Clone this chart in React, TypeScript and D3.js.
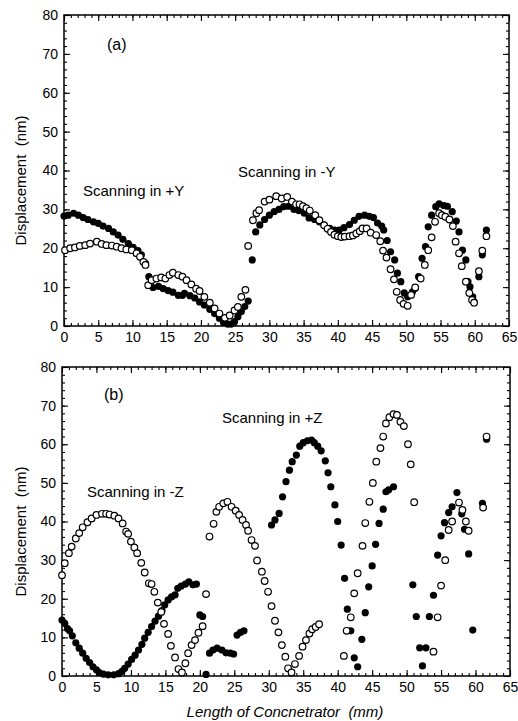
import { useEffect, useRef } from "react";
import * as d3 from "d3";

// tick values
const xTicks = [0, 5, 10, 15, 20, 25, 30, 35, 40, 45, 50, 55, 60, 65];
const yTicks = [0, 10, 20, 30, 40, 50, 60, 70, 80];

// (a) scanning in Y  -- [length mm, displacement nm]
const aFilled: [number, number][] = [
  [0, 28.3], [0.6, 28.5], [1.4, 29], [2.1, 28.5], [2.8, 27.9], [3.5, 27.4], [4.3, 26.8], [5, 26.4],
  [5.7, 25.7], [6.5, 25.1], [7.2, 24.2], [7.9, 23.4], [8.6, 22.3], [9.4, 21.2], [10.1, 20.2], [10.8, 19.4],
  [11.3, 18.3], [11.9, 16.1], [12.4, 12.7], [13, 9.9], [13.8, 10.2], [14.5, 9.6], [15.2, 9.1], [15.9, 8.7],
  [16.7, 7.9], [17.3, 7.9], [17.6, 8.4], [18.4, 7.8], [19.1, 7.2], [19.8, 6.2], [20.5, 5.4], [21.3, 4.3],
  [22, 3.2], [22.7, 2], [23.3, 0.9], [23.9, 0.5], [24.4, 0.5], [24.9, 1.1], [25.4, 2.4], [25.9, 3.7],
  [26.4, 5], [26.9, 6.4], [27.5, 17], [28, 24.2], [28.6, 26], [29.3, 27.4], [30, 28.5], [30.7, 29.4],
  [31.4, 30], [32.1, 30.7], [32.8, 30.8], [33.6, 30], [34.3, 29.7], [35.1, 29], [35.8, 27.8], [36.6, 27.4],
  [37.3, 26.8], [38, 26], [38.8, 25.1], [39.5, 24.7], [40.2, 24.7], [40.9, 25.3], [41.7, 26.1], [42.4, 27.2],
  [43.1, 28.2], [43.9, 28.5], [44.6, 28.2], [45.2, 27.9], [45.8, 26.5], [46.4, 25.7], [46.7, 24.7], [47.2, 22],
  [47.7, 19.1], [48.3, 17], [48.7, 13.6], [49.2, 11.4], [49.7, 8.5], [50.2, 7.5], [50.9, 8.8], [51.3, 9.7],
  [51.8, 12.7], [52.3, 17.4], [52.8, 20.4], [53.2, 25.5], [53.7, 28.5], [54.3, 30.7], [54.8, 31.4], [55.5, 31],
  [56, 30.8], [56.7, 29.4], [57.3, 27], [57.7, 24.2], [58.2, 19.5], [58.7, 17], [59, 11.4], [59.3, 10.1],
  [59.7, 7.5], [59.9, 6.2], [60.6, 12.7], [61.1, 18.3], [61.7, 24.7],
];
const aOpen: [number, number][] = [
  [0.15, 19.5], [0.9, 20], [1.6, 20.2], [2.3, 20.6], [3.1, 20.8], [3.8, 21.2], [4.8, 21.7], [5.5, 21.1],
  [6.2, 20.8], [7, 20.7], [7.7, 20.4], [8.4, 20], [9.1, 19.7], [9.9, 19.5], [10.6, 18.7], [11.1, 17.8],
  [11.6, 16.5], [11.9, 15.7], [12.3, 10.5], [12.8, 11.8], [13.5, 12.2], [14.2, 12.5], [14.8, 12.2], [15.4, 13.1],
  [15.9, 13.7], [16.7, 13.1], [17.3, 12.7], [17.9, 11.8], [18.6, 10.7], [19.3, 9.6], [19.8, 9], [20.5, 7.5],
  [21.3, 6], [22, 4.5], [22.7, 3.2], [23.5, 2.1], [24.2, 2.7], [24.9, 4], [25.4, 4.9], [25.9, 7.5],
  [26.5, 9.3], [26.9, 20.6], [27.6, 27.2], [28.1, 29], [28.5, 29.8], [29.3, 32], [30, 32.5], [31, 33.4],
  [31.8, 32.8], [32.6, 33.2], [33.3, 32], [33.9, 31.3], [34.4, 31.3], [34.9, 30.8], [35.4, 30.3], [35.9, 29.7],
  [36.7, 28.5], [37.3, 27.2], [38, 25.9], [38.5, 25], [39, 24.2], [39.5, 23.5], [40, 23.1], [40.5, 22.9],
  [41, 23], [41.7, 23.1], [42.2, 23.3], [42.7, 23.8], [43.2, 24.4], [43.6, 25.1], [44.2, 25.1], [44.8, 24],
  [45.6, 23.4], [46.2, 21.8], [46.6, 19.4], [47.1, 17.6], [47.7, 14.6], [48.2, 12], [48.6, 8.8], [49.1, 6.7],
  [49.6, 5.7], [50.2, 5.2], [50.7, 8], [51.3, 9.9], [52.1, 12.2], [52.7, 15.7], [53.2, 19.5], [53.7, 22.8],
  [54.2, 26.8], [54.8, 29], [55.2, 28.5], [55.7, 28.1], [56.3, 27.4], [56.8, 25.7], [57.2, 21.7], [57.7, 18.7],
  [58.1, 15.4], [58.7, 11.4], [59.2, 8.5], [59.6, 6.7], [59.9, 6], [60.6, 14.1], [61.1, 19.4], [61.7, 23.1],
];

// (b) scanning in Z
const bFilled: [number, number][] = [
  [0, 14.5], [0.4, 13.6], [0.8, 12.3], [1.1, 11.7], [1.5, 10.4], [2, 8.6], [2.5, 7.2], [3, 5.9],
  [3.5, 4.6], [4, 3.5], [4.5, 2.4], [5, 1.6], [5.4, 0.9], [6, 0.5], [6.7, 0.3], [7.5, 0.3],
  [8.2, 0.6], [8.7, 1.2], [9.1, 2], [9.6, 3.1], [10.1, 4.3], [10.6, 5.4], [11.1, 6.7], [11.6, 8.2],
  [12, 9.8], [12.5, 11.3], [13, 12.8], [13.5, 14.2], [14, 15.5], [14.5, 16.9], [14.9, 18.4], [15.4, 19.7],
  [15.9, 20.5], [16.4, 21], [16.8, 22.7], [17.3, 23.3], [17.9, 23.8], [18.4, 24.4], [19, 23.6], [19.5, 23.8],
  [20, 15.8], [20.4, 15.4], [20.9, 0.4], [21.4, 5.9], [21.9, 6.7], [22.5, 7.2], [23.2, 6.7], [23.8, 6],
  [24.4, 5.9], [24.9, 5.7], [25.4, 10.6], [25.9, 11.3], [26.4, 11.7],
  [30.4, 39.1], [30.9, 40.4], [31.5, 42.1], [32, 46.4], [32.5, 50.3], [33, 53.3], [33.4, 55.5], [34, 57.2],
  [34.5, 59.5], [35, 60.4], [35.6, 60.9], [36.2, 61.1], [36.6, 60.4], [37.1, 59.5], [37.6, 58.3], [38.2, 55.7],
  [38.6, 52.6], [39, 49], [39.6, 44.3], [40, 40], [40.5, 33.9], [41, 25.3], [41.4, 17.3], [41.9, 11.7],
  [42.4, 4.7], [42.9, 2.4], [43.5, 9.5], [44, 16.4], [44.5, 23.1], [45, 28.5], [45.5, 34.1], [46, 39.5],
  [46.6, 43.2], [47, 47.7], [47.4, 48.2], [48.1, 49],
  [50.9, 23.6], [51.4, 15.4], [51.9, 7.3], [52.3, 2.6], [52.8, 7.3], [53.3, 15.4], [53.9, 20.9], [54.5, 31.3],
  [55, 36.3], [55.5, 39.7], [56.1, 42.3], [56.6, 43.8], [57.3, 47.5], [58, 42], [58.4, 38], [59, 31.6],
  [59.6, 11.9], [61, 44.7], [61.6, 61.3],
];
const bOpen: [number, number][] = [
  [0, 26.1], [0.4, 29.2], [1, 31.8], [1.4, 33.5], [2, 35.6], [2.5, 37], [3, 38.5], [3.7, 39.8],
  [4.3, 40.8], [5, 41.7], [5.8, 42], [6.4, 42], [6.9, 41.8], [7.6, 41.5], [8.2, 40.8], [8.8, 39.5],
  [9.3, 37.4], [9.6, 36.8], [10, 34.8], [10.5, 33.3], [10.9, 31.8], [11.5, 29.3], [12, 26.8], [12.6, 24],
  [13, 23.8], [13.4, 21.8], [13.9, 19], [14.4, 16.6], [14.8, 13.5], [15.4, 10.9], [15.8, 7.8], [16.4, 4.8],
  [16.9, 1.8], [17.4, 0.9], [17.9, 3.3], [18.3, 5.9], [18.8, 8], [19.3, 9.3], [19.8, 11.2], [20.4, 12.9],
  [20.9, 21.2], [21.4, 36.1], [22, 39.4], [22.4, 42.5], [22.8, 43.8], [23.4, 44.7], [24, 45.1], [24.6, 43.8],
  [25.2, 42.8], [25.7, 41.7], [26.2, 40.4], [26.7, 39.1], [27, 37.6], [27.5, 35.2], [28, 33.7], [28.3, 29.9],
  [29, 27], [29.4, 24.6], [29.9, 21.8], [30.4, 18.1], [30.9, 14.3], [31.4, 11.3], [31.9, 8], [32.4, 5],
  [32.8, 2], [33.3, 0.9], [33.8, 3.1], [34.4, 5.2], [34.9, 7.6], [35.4, 9.3], [35.9, 11], [36.3, 12.1],
  [36.8, 12.7], [37.3, 13.4],
  [40.9, 5.2], [41.3, 11.7], [41.9, 15.2], [42.4, 21.4], [42.9, 26.6], [43.6, 33.7], [44, 39.6], [44.6, 45.1],
  [45.1, 50], [45.6, 55.5], [46.2, 59], [46.6, 62], [47, 65.4], [47.5, 67], [48.1, 67.8], [48.6, 67.6],
  [49.1, 65.8], [49.6, 64.7], [50.2, 60], [50.6, 54.8], [51.1, 45],
  [53.9, 6.3], [54.5, 15.2], [55, 23.4], [55.6, 30], [56.1, 37.8], [56.6, 40], [57.6, 44.9], [58.1, 43],
  [58.6, 40], [59, 37.6], [61.1, 43.6], [61.6, 62],
];

const font = "'Liberation Sans', Arial, sans-serif";

const panels = [
  {
    filled: aFilled, open: aOpen, left: 64, right: 509, top: 15, bottom: 326,
    tag: "(a)", tagPos: [107, 50],
    notes: [{ t: "Scanning in +Y", x: 83, y: 196 }, { t: "Scanning in -Y", x: 238, y: 177 }],
  },
  {
    filled: bFilled, open: bOpen, left: 62, right: 510, top: 367, bottom: 676,
    tag: "(b)", tagPos: [104, 400],
    notes: [{ t: "Scanning in -Z", x: 87, y: 497 }, { t: "Scanning in +Z", x: 222, y: 423 }],
  },
];

const App = () => {
  const svgRef = useRef<SVGSVGElement>(null);

  useEffect(() => {
    const svg = d3.select(svgRef.current);
    svg.selectAll("*").remove();

    panels.forEach((p) => {
      const x = d3.scaleLinear().domain([0, 65]).range([p.left, p.right]);
      const y = d3.scaleLinear().domain([0, 80]).range([p.bottom, p.top]);
      const g = svg.append("g");

      const xMinor = d3.range(0, 66, 1);
      const yMinor = d3.range(0, 81, 2);

      const addAxis = (axis: any, tr: string, labels: boolean) => {
        const a = g.append("g").attr("transform", tr).call(axis);
        a.select(".domain").remove();
        a.selectAll("line").attr("stroke", "#000").attr("stroke-width", 1.1);
        a.selectAll("text")
          .attr("font-family", font)
          .attr("font-size", 14)
          .attr("fill", "#000");
        if (!labels) a.selectAll("text").remove();
        return a;
      };

      // bottom
      addAxis(d3.axisBottom(x).tickValues(xMinor).tickSize(-3).tickFormat(() => ""), `translate(0,${p.bottom})`, false);
      addAxis(d3.axisBottom(x).tickValues(xTicks).tickSize(-6).tickPadding(6).tickFormat(d3.format("d")), `translate(0,${p.bottom})`, true);
      // top
      addAxis(d3.axisTop(x).tickValues(xMinor).tickSize(-3), `translate(0,${p.top})`, false);
      addAxis(d3.axisTop(x).tickValues(xTicks).tickSize(-6), `translate(0,${p.top})`, false);
      // left
      addAxis(d3.axisLeft(y).tickValues(yMinor).tickSize(-3), `translate(${p.left},0)`, false);
      addAxis(d3.axisLeft(y).tickValues(yTicks).tickSize(-6).tickPadding(6).tickFormat(d3.format("d")), `translate(${p.left},0)`, true);
      // right
      addAxis(d3.axisRight(y).tickValues(yMinor).tickSize(-3), `translate(${p.right},0)`, false);
      addAxis(d3.axisRight(y).tickValues(yTicks).tickSize(-6), `translate(${p.right},0)`, false);

      g.append("rect")
        .attr("x", p.left).attr("y", p.top)
        .attr("width", p.right - p.left).attr("height", p.bottom - p.top)
        .attr("fill", "none").attr("stroke", "#000").attr("stroke-width", 1.5);

      g.append("g").selectAll("circle").data(p.filled).join("circle")
        .attr("cx", (d) => x(d[0])).attr("cy", (d) => y(d[1])).attr("r", 3.6)
        .attr("fill", "#000");

      g.append("g").selectAll("circle").data(p.open).join("circle")
        .attr("cx", (d) => x(d[0])).attr("cy", (d) => y(d[1])).attr("r", 3.3)
        .attr("fill", "#fff").attr("stroke", "#000").attr("stroke-width", 1.2);

      g.append("text").attr("x", p.tagPos[0]).attr("y", p.tagPos[1])
        .attr("font-family", font).attr("font-size", 16).text(p.tag);

      p.notes.forEach((n) => {
        g.append("text").attr("x", n.x).attr("y", n.y)
          .attr("font-family", font).attr("font-size", 15).text(n.t);
      });

      g.append("text")
        .attr("transform", `translate(26,${(p.top + p.bottom) / 2 + 10}) rotate(-90)`)
        .attr("text-anchor", "middle")
        .attr("font-family", font).attr("font-size", 15)
        .style("white-space", "pre")
        .text("Displacement  (nm)");
    });

    svg.append("text")
      .attr("x", 285).attr("y", 717)
      .attr("text-anchor", "middle")
      .attr("font-family", font).attr("font-size", 15).attr("font-style", "italic")
      .style("white-space", "pre")
      .text("Length of Concnetrator  (mm)");
  }, []);

  return (
    <svg
      ref={svgRef}
      width={518}
      height={721}
      style={{ position: "absolute", left: 0, top: 0, background: "#fff" }}
    />
  );
};

export default App;
